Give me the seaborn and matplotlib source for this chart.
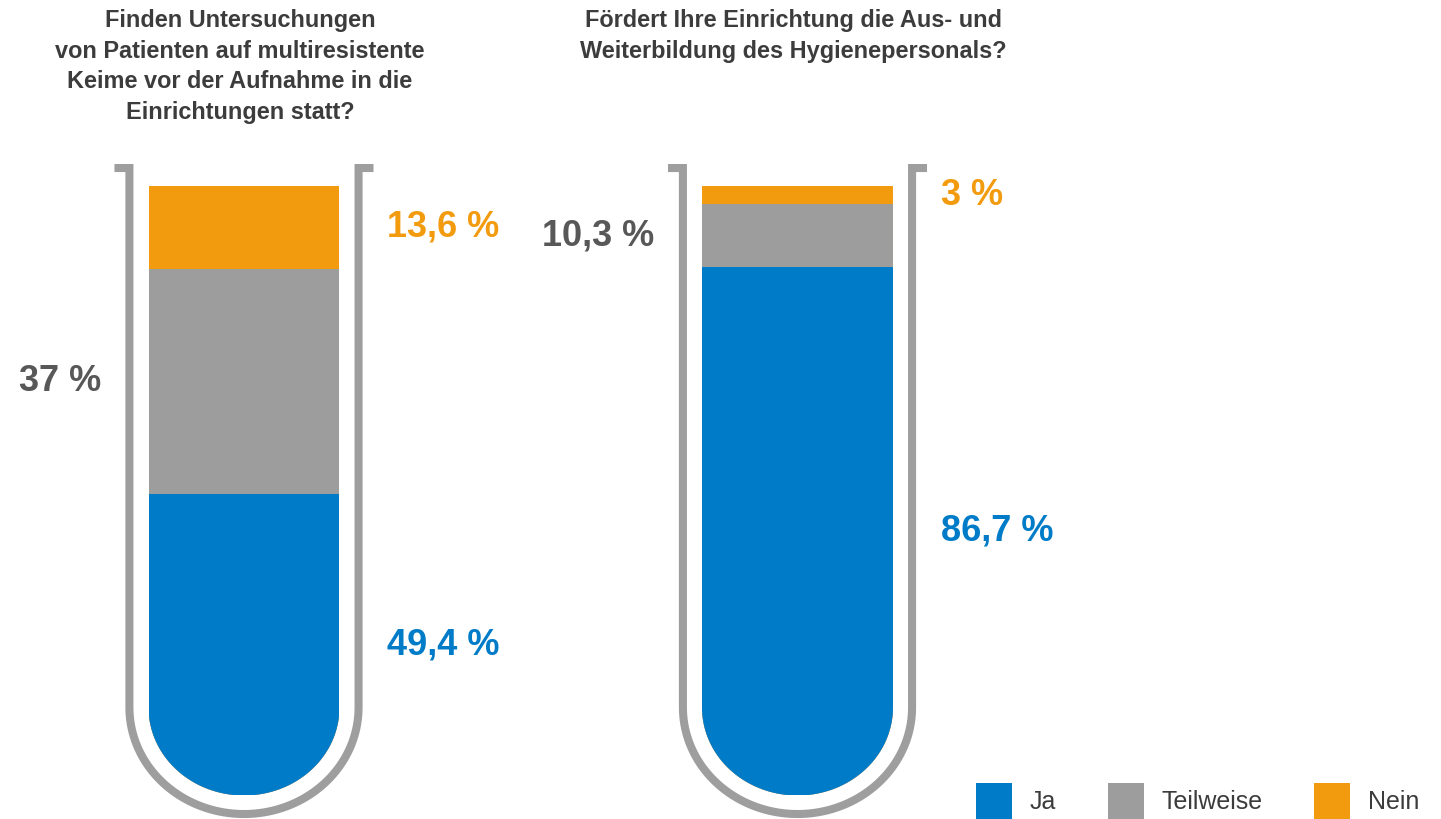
import numpy as np
import matplotlib.pyplot as plt
import matplotlib.transforms as mtransforms
import pandas as pd
import seaborn as sns
from matplotlib.path import Path
from matplotlib.patches import PathPatch, Patch

# Daten
fragen = ['Finden Untersuchungen\nvon Patienten auf multiresistente\nKeime vor der Aufnahme in die\nEinrichtungen statt?',
          'Fördert Ihre Einrichtung die Aus- und\nWeiterbildung des Hygienepersonals?']
antworten = ['Ja', 'Teilweise', 'Nein']
ja = [49.4, 86.7]
teilweise = [37.0, 10.3]
nein = [13.6, 3.0]

blau, grau, orange = '#007bc7', '#9c9d9c', '#f39b0e'
farben = [blau, grau, orange]
rohr_farbe = '#9d9e9d'
text_farbe = '#3c3c3c'
label_grau = '#585858'

sns.set_theme(style='white')
plt.rcParams['font.family'] = ['Liberation Sans', 'DejaVu Sans']

df = pd.DataFrame({'frage': ['A', 'B'], 'Ja': ja, 'Teilweise': teilweise, 'Nein': nein})
df['bis_teil'] = df['Ja'] + df['Teilweise']
df['bis_nein'] = df['bis_teil'] + df['Nein']

fig = plt.figure(figsize=(14.41, 8.19), dpi=100)
ax = fig.add_axes([0, 0, 1, 1])

breite = 0.345
# gestapelte Balken durch Überlagerung der kumulierten Summen
for spalte, farbe in [('bis_nein', orange), ('bis_teil', grau), ('Ja', blau)]:
    sns.barplot(data=df, x='frage', y=spalte, color=farbe, saturation=1,
                width=breite, errorbar=None, linewidth=0, ax=ax)

ax.set_xlim(-0.4408, 2.1626)
ax.set_ylim(-3.856, 130.52)
ax.axis('off')

# runder Boden: Balken mit Halbellipse beschneiden
a_fill = breite / 2
b_fill = 14.44
t = np.linspace(0, np.pi, 80)


def fuell_pfad(c):
    verts = [(c - a_fill, 105), (c - a_fill, b_fill)]
    verts += list(zip(c - a_fill * np.cos(t), b_fill - b_fill * np.sin(t)))
    verts += [(c + a_fill, b_fill), (c + a_fill, 105), (c - a_fill, 105)]
    codes = [Path.MOVETO] + [Path.LINETO] * (len(verts) - 2) + [Path.CLOSEPOLY]
    return Path(verts, codes)


for p in ax.patches:
    c = p.get_x() + p.get_width() / 2
    clip = PathPatch(fuell_pfad(c), transform=ax.transData)
    p.set_clip_path(clip)

# Reagenzglas-Umriss
A = 0.207
stub = 0.027
y_oben = 102.95
B = 17.48
for i in range(len(fragen)):
    verts = [(i - A - stub, y_oben), (i - A, y_oben)]
    verts += list(zip(i - A * np.cos(t), b_fill - B * np.sin(t)))
    verts += [(i + A, y_oben), (i + A + stub, y_oben)]
    codes = [Path.MOVETO] + [Path.LINETO] * (len(verts) - 1)
    ax.add_patch(PathPatch(Path(verts, codes), fill=False, edgecolor=rohr_farbe,
                           linewidth=5.8, joinstyle='miter', capstyle='butt'))


def fmt(v):
    return f'{v:g}'.replace('.', ',') + ' %'


off = 0.2585
gr = 26
for i in range(len(fragen)):
    ax.text(i + off, ja[i] / 2, fmt(ja[i]), color=blau, fontsize=gr,
            fontweight='bold', ha='left', va='center')
    ax.text(i - off, ja[i] + teilweise[i] / 2, fmt(teilweise[i]), color=label_grau,
            fontsize=gr, fontweight='bold', ha='right', va='center')
    ax.text(i + off, ja[i] + teilweise[i] + nein[i] / 2, fmt(nein[i]), color=orange,
            fontsize=gr, fontweight='bold', ha='left', va='center')

trans = mtransforms.blended_transform_factory(ax.transData, ax.transAxes)
for i, frage in enumerate(fragen):
    ax.text(i - 0.007, 1 - 9 / 819, frage, transform=trans, ha='center', va='top',
            fontsize=16.9, fontweight='bold', color=text_farbe, linespacing=1.42)

handles = [Patch(facecolor=f, edgecolor='none', label=l) for f, l in zip(farben, antworten)]
leg = ax.legend(handles=handles, ncol=3, loc='lower right', bbox_to_anchor=(0.985, 0.0),
                bbox_transform=fig.transFigure, frameon=False, fontsize=18,
                handlelength=1.44, handleheight=1.84, handletextpad=0.72,
                columnspacing=2.05, borderpad=0, borderaxespad=0)
for txt in leg.get_texts():
    txt.set_color(text_farbe)

fig.savefig('out.png', dpi=100)
